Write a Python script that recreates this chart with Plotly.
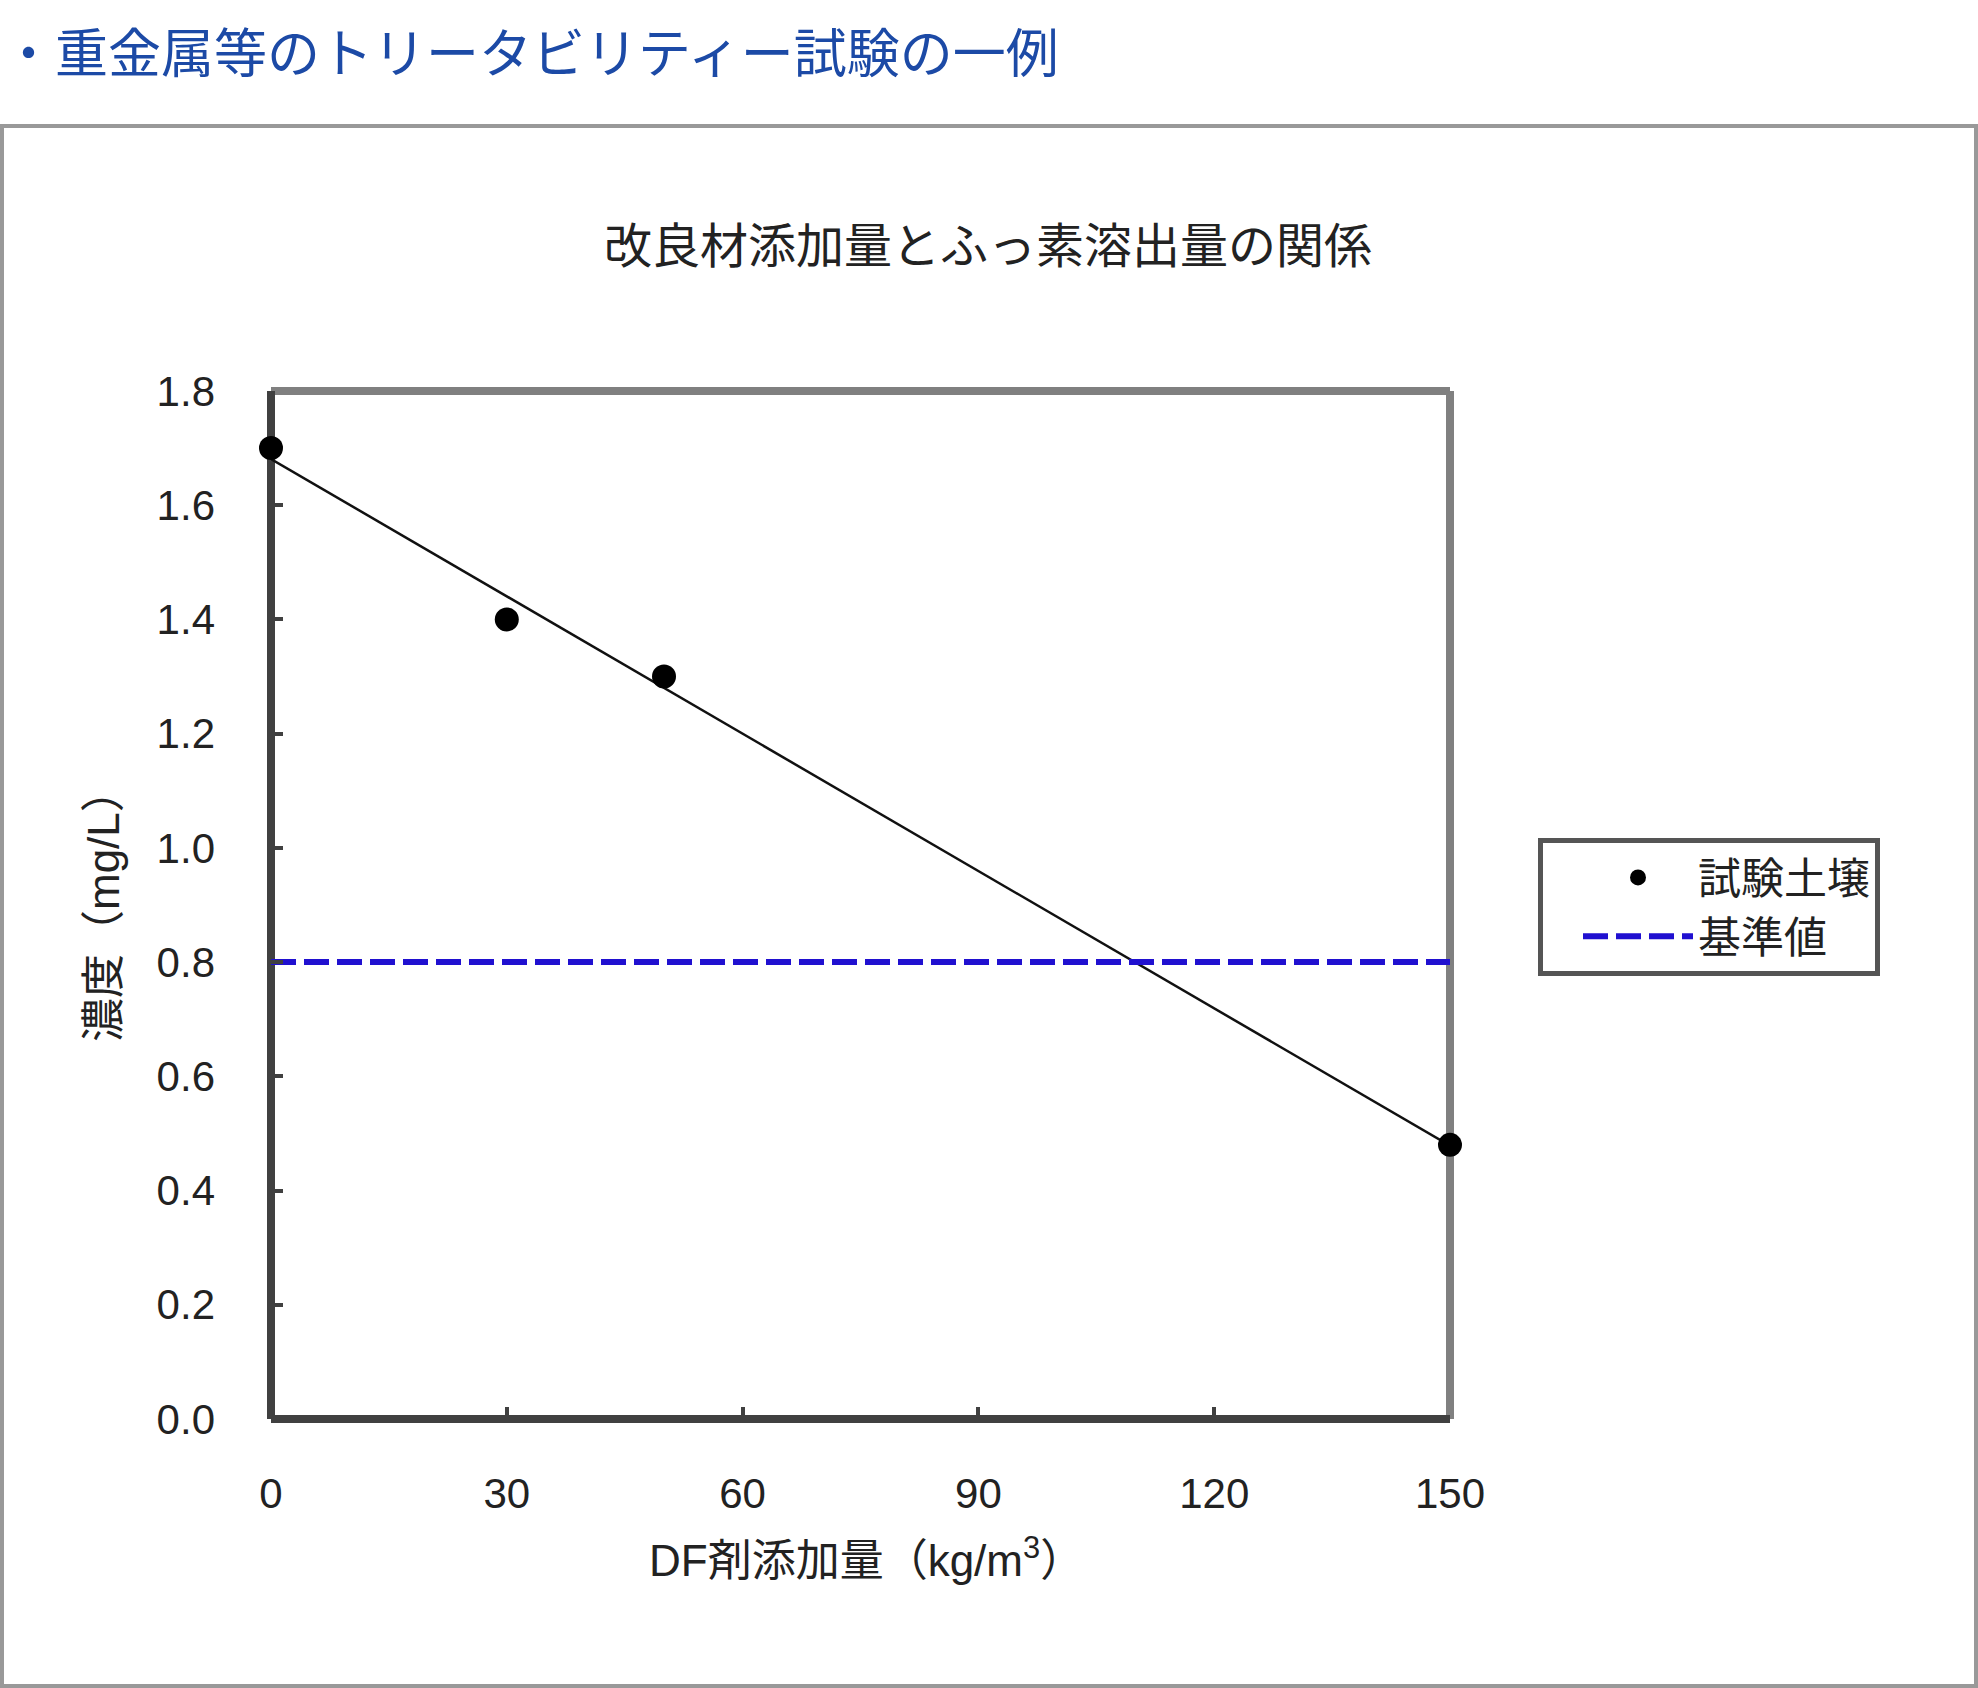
import numpy as np
import plotly.graph_objects as go

# ---- data ----
dose = [0, 30, 50, 150]                 # DF剤添加量 (kg/m3)
conc = [1.7, 1.4, 1.3, 0.48]            # 濃度 (mg/L)
std_x = [0, 150]
std_value = 0.8                          # 基準値
x_ticks = [0, 30, 60, 90, 120, 150]
y_ticks = [0.0, 0.2, 0.4, 0.6, 0.8, 1.0, 1.2, 1.4, 1.6, 1.8]
y_tick_text = [f"{v:.1f}" for v in y_ticks]

page_title = "・重金属等のトリータビリティー試験の一例"
chart_title = "改良材添加量とふっ素溶出量の関係"
x_title = "DF剤添加量（kg/m<sup>3</sup>）"
y_title = "濃度（mg/L）"
series_name = "試験土壌"
std_name = "基準値"

# ---- geometry helpers ----
W, H = 1978, 1688
L, R, T, B = 271, 1450, 391, 1419


def px(x):
    return (x - L) / (R - L)


def py(y):
    return (B - y) / (B - T)


FONT = "Liberation Sans, Noto Sans CJK JP, sans-serif"
CJK = "Noto Sans CJK JP, sans-serif"

# linear trend line (least squares, like a spreadsheet trendline)
slope, intercept = np.polyfit(dose, conc, 1)
trend_x = [min(dose), max(dose)]
trend_y = [intercept + slope * v for v in trend_x]

fig = go.Figure()
fig.add_trace(go.Scatter(
    x=trend_x, y=trend_y, mode="lines",
    line=dict(color="#111111", width=2.5),
    showlegend=False, hoverinfo="skip", cliponaxis=False,
))
fig.add_trace(go.Scatter(
    x=dose, y=conc, mode="markers", name=series_name,
    marker=dict(color="#000000", size=24),
    cliponaxis=False,
))
fig.add_trace(go.Scatter(
    x=std_x, y=[std_value] * len(std_x), mode="lines", name=std_name,
    line=dict(color="#2010d0", width=6, dash="25px,8px"),
    cliponaxis=False,
))

shapes = [
    # outer grey frame
    dict(type="rect", xref="paper", yref="paper",
         x0=px(2), x1=px(1976), y0=py(1686), y1=py(126),
         line=dict(color="#999999", width=4), fillcolor="rgba(0,0,0,0)",
         layer="below"),
    # plot frame: top & right grey, left & bottom dark
    dict(type="line", xref="paper", yref="paper", x0=0, x1=1, y0=1, y1=1,
         line=dict(color="#808080", width=8), layer="below"),
    dict(type="line", xref="paper", yref="paper", x0=1, x1=1, y0=0, y1=1,
         line=dict(color="#808080", width=8), layer="below"),
    dict(type="line", xref="paper", yref="paper", x0=0, x1=0, y0=0, y1=1,
         line=dict(color="#404040", width=8), layer="below"),
    dict(type="line", xref="paper", yref="paper", x0=0, x1=1, y0=0, y1=0,
         line=dict(color="#404040", width=8), layer="below"),
]

annotations = [
    dict(text=page_title, xref="paper", yref="paper", x=px(0), y=py(50),
         xanchor="left", yanchor="middle", showarrow=False,
         font=dict(family=CJK, size=53, color="#1c4aa6")),
    dict(text=chart_title, xref="paper", yref="paper", x=px(988), y=py(242),
         xanchor="center", yanchor="middle", showarrow=False,
         font=dict(family=CJK, size=48, color="#222222")),
    dict(text=x_title, xref="paper", yref="paper", x=px(866), y=py(1557),
         xanchor="center", yanchor="middle", showarrow=False,
         font=dict(family=FONT, size=44, color="#222222")),
    dict(text=y_title, xref="paper", yref="paper", x=px(103), y=py(905),
         xanchor="center", yanchor="middle", showarrow=False, textangle=-90,
         font=dict(family=FONT, size=44, color="#222222")),
]

fig.update_layout(
    width=W, height=H,
    margin=dict(l=L, r=W - R, t=T, b=H - B, pad=0),
    paper_bgcolor="white", plot_bgcolor="white",
    font=dict(family=FONT, size=42, color="#222222"),
    shapes=shapes, annotations=annotations,
    legend=dict(
        x=px(1538), y=py(838), xanchor="left", yanchor="top",
        bordercolor="#555555", borderwidth=5, bgcolor="white",
        font=dict(family=FONT, size=43, color="#222222"),
        itemwidth=110, indentation=35,
    ),
    xaxis=dict(
        range=[0, 150], tickvals=x_ticks, ticktext=[str(v) for v in x_ticks],
        ticks="inside", ticklen=12, tickwidth=4, tickcolor="#404040",
        showgrid=False, zeroline=False, showline=False,
        ticklabelstandoff=46,
        tickfont=dict(family=FONT, size=42, color="#222222"),
    ),
    yaxis=dict(
        range=[0, 1.8], tickvals=y_ticks, ticktext=y_tick_text,
        ticks="inside", ticklen=12, tickwidth=4, tickcolor="#404040",
        showgrid=False, zeroline=False, showline=False,
        ticklabelstandoff=55,
        tickfont=dict(family=FONT, size=42, color="#222222"),
    ),
)

fig.write_html("out.html")
